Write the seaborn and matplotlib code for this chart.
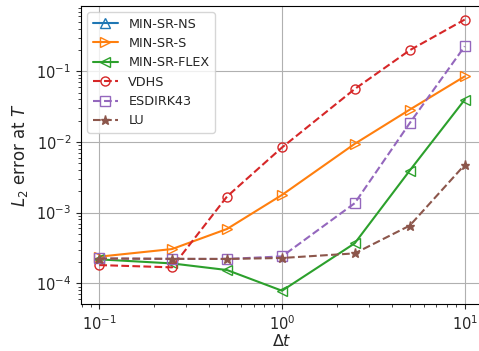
import matplotlib
matplotlib.use("Agg")
import matplotlib.pyplot as plt
import seaborn as sns
import pandas as pd

nan = float("nan")

# time step sizes
dt = [0.1, 0.25, 0.5, 1.0, 2.5, 5.0, 10.0]

# L2 error at final time for each method (MIN-SR-NS has no finite results)
err_min_sr_ns = [nan, nan, nan, nan, nan, nan, nan]
err_min_sr_s = [2.38e-4, 3.05e-4, 5.87e-4, 1.78e-3, 9.42e-3, 2.87e-2, 8.49e-2]
err_min_sr_flex = [2.18e-4, 1.91e-4, 1.54e-4, 7.84e-5, 3.68e-4, 3.94e-3, 3.97e-2]
err_vdhs = [1.81e-4, 1.68e-4, 1.69e-3, 8.36e-3, 5.62e-2, 1.99e-1, 5.41e-1]
err_esdirk43 = [2.25e-4, 2.21e-4, 2.21e-4, 2.40e-4, 1.36e-3, 1.85e-2, 2.26e-1]
err_lu = [2.24e-4, 2.22e-4, 2.21e-4, 2.28e-4, 2.65e-4, 6.55e-4, 4.75e-3]

methods = ["MIN-SR-NS", "MIN-SR-S", "MIN-SR-FLEX", "VDHS", "ESDIRK43", "LU"]
errors = [err_min_sr_ns, err_min_sr_s, err_min_sr_flex, err_vdhs, err_esdirk43, err_lu]
markers = ["^", ">", "<", "o", "s", "*"]
linestyles = ["-", "-", "-", "--", "--", "--"]
filled = [False, False, False, False, False, True]

sns.set_style("white")
plt.rcParams["font.family"] = ["DejaVu Sans"]
plt.rcParams["mathtext.fontset"] = "dejavusans"

fig = plt.figure(figsize=(4.79, 3.51), dpi=100)
ax = fig.add_axes([81 / 479, 1 - 304.3 / 351, (483 - 81) / 479, (304.3 - 6) / 351])

palette = sns.color_palette("tab10")
for i, (name, err) in enumerate(zip(methods, errors)):
    df = pd.DataFrame({"dt": dt, "err": err})
    col = palette[i]
    sns.lineplot(data=df, x="dt", y="err", ax=ax, color=col, label=name,
                 marker=markers[i], linestyle=linestyles[i], linewidth=1.5,
                 markersize=6.5, markeredgecolor=col,
                 markerfacecolor=col if filled[i] else "none",
                 markeredgewidth=1.0)

ax.set_xscale("log")
ax.set_yscale("log")
ax.set_xlim(10 ** -1.1, 10 ** 1.1)
ax.grid(True, which="major", color="#b0b0b0", linewidth=0.8)
ax.tick_params(axis="both", which="both", direction="out", labelsize=10.5,
               left=True, bottom=True)
ax.tick_params(which="major", length=3.5)
ax.tick_params(which="minor", length=2)
for s in ax.spines.values():
    s.set_color("black")
    s.set_linewidth(0.8)

ax.set_xlabel(r"$\Delta t$", fontsize=11.5, labelpad=0.5)
ax.set_ylabel(r"$L_2$ error at $T$", fontsize=12)
ax.legend(loc="upper left", fontsize=9.2, framealpha=0.8)

fig.savefig("out.png", dpi=100)
